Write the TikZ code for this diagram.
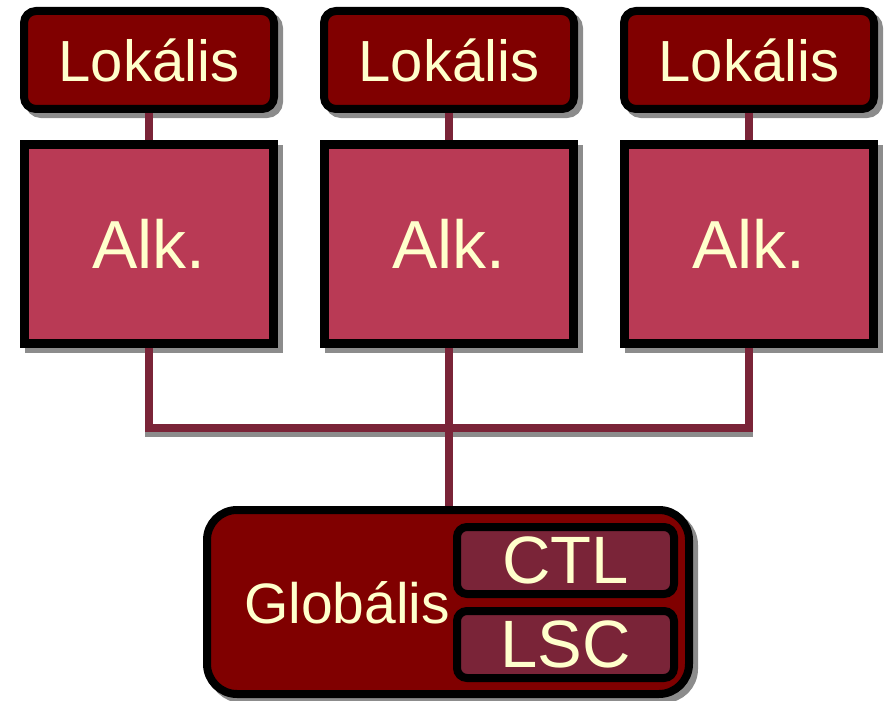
\documentclass[tikz,border=0pt]{standalone}
\usepackage{fontspec}
\setmainfont{Liberation Sans}
\definecolor{lokfill}{HTML}{800000}
\definecolor{alkfill}{HTML}{B93A55}
\definecolor{wirecol}{HTML}{7A2438}
\definecolor{txtcol}{HTML}{FFFFCC}
\definecolor{shadecol}{HTML}{8C8C8C}
\pgfdeclarelayer{shade}
\pgfdeclarelayer{wires}
\pgfsetlayers{shade,wires,main}
% drop shadow behind a named box: #1 name, #2 corner radius, #3 line width
\newcommand\boxshade[3]{%
  \draw[shadecol, fill=shadecol, line width=#3, rounded corners=#2]
    ([shift={(5,5)}]#1.north west) rectangle ([shift={(5,5)}]#1.south east);}
\begin{document}
\begin{tikzpicture}[x=1pt, y=-1pt,
  basebox/.style={draw=black, inner sep=0pt, outer sep=0pt, text=txtcol},
  lokbox/.style={basebox, line width=8pt, fill=lokfill, rounded corners=12pt,
    minimum width=250pt, minimum height=98pt, font=\fontsize{58}{60}\selectfont},
  alkbox/.style={basebox, line width=9pt, fill=alkfill,
    minimum width=249pt, minimum height=199pt, font=\fontsize{68}{70}\selectfont},
  globbox/.style={basebox, line width=8pt, fill=lokfill, rounded corners=30pt,
    minimum width=482pt, minimum height=184pt},
  subbox/.style={basebox, line width=8pt, fill=wirecol, rounded corners=10pt,
    minimum width=217pt, minimum height=67pt, font=\fontsize{67}{70}\selectfont},
  labeltext/.style={inner sep=0pt, text=txtcol, font=\fontsize{57}{60}\selectfont},
  wire/.style={draw=wirecol, line width=8pt},
  wireshade/.style={draw=shadecol, line width=8pt}]
\useasboundingbox (0,0) rectangle (887,701);

% local stores
\node[lokbox] (lok1) at (149,60) {Lokális};
\node[lokbox] (lok2) at (449,60) {Lokális};
\node[lokbox] (lok3) at (749,60) {Lokális};

% applications
\node[alkbox] (alk1) at (149,244) {Alk.};
\node[alkbox] (alk2) at (449,244) {Alk.};
\node[alkbox] (alk3) at (749,244) {Alk.};

% global store with its two parts
\node[globbox] (glob) at (448,602) {};
\node[labeltext] (globtxt) at (347,603) {Globális};
\node[subbox] (ctl) at (565.5,560.5) {CTL};
\node[subbox] (lsc) at (565.5,644.5) {LSC};

\coordinate (hub) at (449,428);

\begin{pgfonlayer}{wires}
  \draw[wire] (lok1.south) -- (alk1.north);
  \draw[wire] (lok2.south) -- (alk2.north);
  \draw[wire] (lok3.south) -- (alk3.north);
  \draw[wire] (alk1.south) |- (hub) -| (alk3.south);
  \draw[wire] (alk2.south) -- (alk2.south |- glob.north);
\end{pgfonlayer}

\begin{pgfonlayer}{shade}
  \boxshade{lok1}{12pt}{8pt}
  \boxshade{lok2}{12pt}{8pt}
  \boxshade{lok3}{12pt}{8pt}
  \boxshade{alk1}{0pt}{9pt}
  \boxshade{alk2}{0pt}{9pt}
  \boxshade{alk3}{0pt}{9pt}
  \boxshade{glob}{30pt}{8pt}
  \boxshade{ctl}{10pt}{8pt}
  \boxshade{lsc}{10pt}{8pt}
  \draw[wireshade] ([shift={(0,5)}]alk1.south) |- ([shift={(0,5)}]hub)
    -| ([shift={(0,5)}]alk3.south);
\end{pgfonlayer}
\end{tikzpicture}
\end{document}
